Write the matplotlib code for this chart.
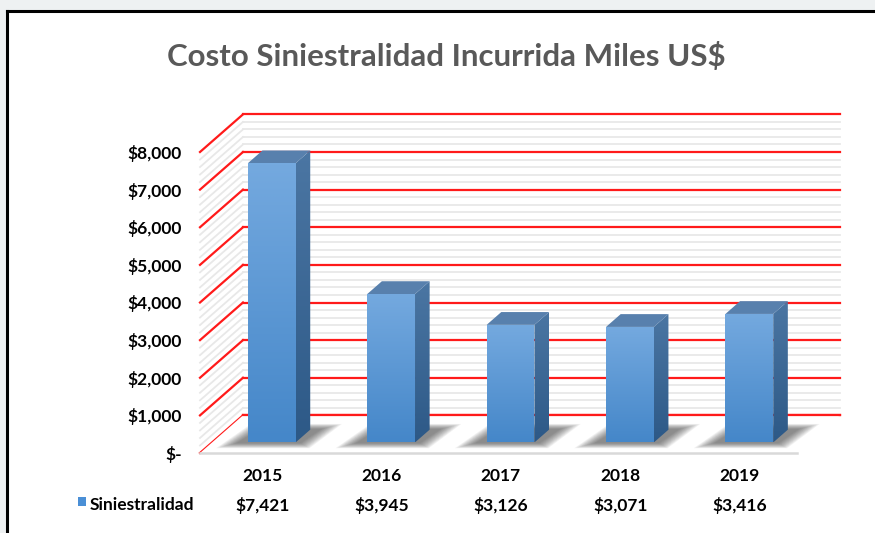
import matplotlib
matplotlib.use("Agg")
import matplotlib.pyplot as plt
import numpy as np
from matplotlib.patches import Polygon, Rectangle
from matplotlib.lines import Line2D
from matplotlib.colors import LinearSegmentedColormap

years = ['2015', '2016', '2017', '2018', '2019']
values = [7421, 3945, 3126, 3071, 3416]
series_name = 'Siniestralidad'
title = 'Costo Siniestralidad Incurrida Miles US$'
y_ticks = [0, 1000, 2000, 3000, 4000, 5000, 6000, 7000, 8000]
y_minor = np.arange(0, 8001, 200)

W, H = 875, 533
FONT = 'Lato'

# oblique "3d" offsets (depth 0 = front, 1 = back wall)
DX = 0.36
DY = 1000
F0, F1 = 0.28, 0.62      # bar depth range
BAR_W = 0.40

RED = '#ff1a1a'
MINOR = '#e8e8e8'


def p3(x, v, d):
    return (x + d * DX, v + d * DY)


def grad_face(ax, pts, c1, c2, z):
    poly = Polygon(pts, closed=True, facecolor='none', edgecolor='none', zorder=z)
    ax.add_patch(poly)
    xs = [p[0] for p in pts]
    ys = [p[1] for p in pts]
    cmap = LinearSegmentedColormap.from_list('g', [c2, c1])
    g = np.linspace(0, 1, 64).reshape(-1, 1)
    im = ax.imshow(g, cmap=cmap, origin='lower', aspect='auto',
                   extent=[min(xs), max(xs), min(ys), max(ys)],
                   interpolation='bilinear', zorder=z)
    im.set_clip_path(poly)


fig = plt.figure(figsize=(W / 100, H / 100), dpi=100)
fig.patch.set_facecolor('#eef1f2')
fig.add_artist(Rectangle((8 / W, 0), 1, 1 - 12 / H, transform=fig.transFigure,
                         facecolor='white', edgecolor='none', zorder=0))
fig.add_artist(Line2D([7 / W, 1], [1 - 11 / H, 1 - 11 / H], transform=fig.transFigure,
                      color='black', lw=2.2))
fig.add_artist(Line2D([7 / W, 7 / W], [0, 1 - 11 / H], transform=fig.transFigure,
                      color='black', lw=2.2))

# axes covers front plane + depth
left, right, bottom, top = 200, 840, 453, 114
xunit = (797 - 200) / 5
vunit = (453 - 152) / 8000
ax = fig.add_axes([left / W, (H - bottom) / H, (right - left) / W, (bottom - top) / H])
ax.patch.set_alpha(0)
for s in ax.spines.values():
    s.set_visible(False)
ax.set_xticks([])
ax.set_yticks(y_ticks)
ax.set_yticklabels(['$-' if v == 0 else '${:,.0f}'.format(v) for v in y_ticks],
                   fontfamily=FONT, fontweight='bold', fontsize=12.5)
ax.tick_params(axis='y', length=0, pad=13)

n = len(years)

# minor gridlines: back wall and side wall
for v in y_minor:
    if v % 1000 == 0:
        continue
    a, b = p3(0, v, 1), p3(n, v, 1)
    ax.plot([a[0], b[0]], [a[1], b[1]], color=MINOR, lw=1.3, zorder=1, clip_on=False)
    a, b = p3(0, v, 0), p3(0, v, 1)
    ax.plot([a[0], b[0]], [a[1], b[1]], color=MINOR, lw=1.3, zorder=1, clip_on=False)

# major red gridlines
for v in y_ticks:
    a, b = p3(0, v, 1), p3(n, v, 1)
    ax.plot([a[0], b[0]], [a[1], b[1]], color=RED, lw=1.6, zorder=2, clip_on=False)
    a, b = p3(0, v, 0), p3(0, v, 1)
    ax.plot([a[0], b[0]], [a[1], b[1]], color=RED, lw=1.6, zorder=2, clip_on=False)

# floor
floor = [p3(0, 0, 0), p3(n, 0, 0), p3(n, 0, 1), p3(0, 0, 1)]
ax.add_patch(Polygon(floor, closed=True, facecolor='white', edgecolor='none', zorder=3))
a, b = p3(0, 0, 1), p3(n, 0, 1)
ax.plot([a[0], b[0]], [a[1], b[1]], color=RED, lw=1.6, zorder=3, clip_on=False)
ax.plot([0, n], [0, 0], color='#d9d9d9', lw=1.8, zorder=3, clip_on=False)

# bars
for i, v in enumerate(values):
    xl = i + 0.5 - BAR_W / 2
    xr = i + 0.5 + BAR_W / 2
    z = 10 + i * 5
    # soft shadow on the floor
    for k in range(12):
        e = 0.011 * k
        sh = [p3(xl - 0.09 - e, 0, F0 - 0.02 - 0.012 * k), p3(xr + 0.05 + e, 0, F0 - 0.02 - 0.012 * k),
              p3(xr + 0.09 + e, 0, F1 + 0.02 + 0.012 * k), p3(xl - 0.03 - e, 0, F1 + 0.02 + 0.012 * k)]
        ax.add_patch(Polygon(sh, closed=True, facecolor='#3a3a3a', edgecolor='none',
                             alpha=0.065, zorder=z))
    front = [p3(xl, 0, F0), p3(xr, 0, F0), p3(xr, v, F0), p3(xl, v, F0)]
    side = [p3(xr, 0, F0), p3(xr, 0, F1), p3(xr, v, F1), p3(xr, v, F0)]
    topf = [p3(xl, v, F0), p3(xr, v, F0), p3(xr, v, F1), p3(xl, v, F1)]
    grad_face(ax, side, '#4b76a3', '#2d5987', z + 1)
    ax.add_patch(Polygon(topf, closed=True, facecolor='#5880ad', edgecolor='none', zorder=z + 2))
    grad_face(ax, front, '#74a9df', '#4587c9', z + 3)

ax.set_xlim(0, (right - left) / xunit)
ax.set_ylim(0, (bottom - top) / vunit)

# data table below the axis
for i, (yr, v) in enumerate(zip(years, values)):
    fx = (200 + (i + 0.52) * xunit) / W
    fig.text(fx, 1 - 476 / H, yr, ha='center', va='center', fontfamily=FONT,
             fontweight='bold', fontsize=12.5, color='black')
    fig.text(fx, 1 - 505 / H, '${:,.0f}'.format(v), ha='center', va='center',
             fontfamily=FONT, fontweight='bold', fontsize=12.5, color='black')

fig.add_artist(Rectangle((78 / W, 1 - 506 / H), 8 / W, 9 / H, transform=fig.transFigure,
                         facecolor='#4a8fd6', edgecolor='none'))
fig.text(90 / W, 1 - 505 / H, series_name, ha='left', va='center', fontfamily=FONT,
         fontweight='bold', fontsize=12.5, color='black')

fig.text(446 / W, 1 - 57 / H, title, ha='center', va='center', fontfamily=FONT,
         fontweight='bold', fontsize=22.5, color='#595959')

fig.savefig('out.png', dpi=100, facecolor=fig.get_facecolor())
